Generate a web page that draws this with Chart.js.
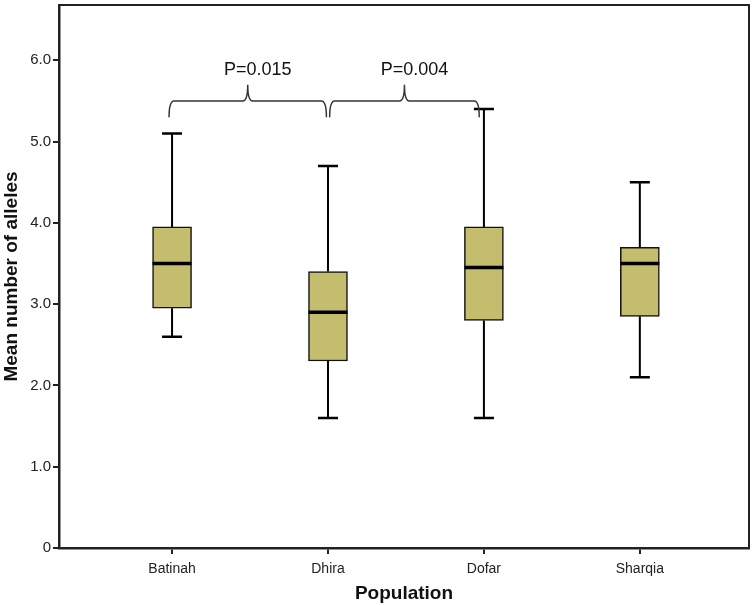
<!DOCTYPE html>
<html>
<head>
<meta charset="utf-8">
<script src="https://cdn.jsdelivr.net/npm/chart.js@4/dist/chart.umd.min.js"></script>
<style>
  html, body { margin: 0; padding: 0; background: #fff; }
  #wrap { width: 754px; height: 605px; }
</style>
</head>
<body>
<div id="wrap"><canvas id="boxchart"></canvas></div>
<script>
// Data
const populations = ['Batinah', 'Dhira', 'Dofar', 'Sharqia'];
const whiskerMin = [2.6, 1.6, 1.6, 2.1];
const q1 = [2.95, 2.3, 2.8, 2.85];
const medians = [3.5, 2.9, 3.45, 3.5];
const q3 = [3.95, 3.4, 3.95, 3.7];
const whiskerMax = [5.1, 4.7, 5.4, 4.5];
const yTicks = [0, 1, 2, 3, 4, 5, 6];

// significance brackets: [from category, to category, label]
const bracketFrom = [1, 2.03];
const bracketTo = [1.99, 2.97];
const bracketLabels = ['P=0.015', 'P=0.004'];

const boxFill = '#c4bd6e';
const font = "'Liberation Sans', Arial, sans-serif";

const boxData = populations.map((p, i) => ({ x: i + 1, y: [q1[i], q3[i]] }));

// whiskers, caps, medians, frame and brackets drawn through the scales
const boxExtras = {
    id: 'boxExtras',
    afterDatasetsDraw(chart) {
        const ctx = chart.ctx;
        const xs = chart.scales.x;
        const ys = chart.scales.y;
        const ca = chart.chartArea;
        ctx.save();
        ctx.strokeStyle = '#000';
        for (let i = 0; i < populations.length; i++) {
            const cx = xs.getPixelForValue(i + 1);
            const capHalf = 10;
            const boxHalf = 19.5;
            ctx.lineWidth = 2;
            ctx.beginPath();
            ctx.moveTo(cx, ys.getPixelForValue(q3[i]));
            ctx.lineTo(cx, ys.getPixelForValue(whiskerMax[i]));
            ctx.moveTo(cx, ys.getPixelForValue(q1[i]));
            ctx.lineTo(cx, ys.getPixelForValue(whiskerMin[i]));
            ctx.stroke();
            ctx.lineWidth = 2.5;
            ctx.beginPath();
            ctx.moveTo(cx - capHalf, ys.getPixelForValue(whiskerMax[i]));
            ctx.lineTo(cx + capHalf, ys.getPixelForValue(whiskerMax[i]));
            ctx.moveTo(cx - capHalf, ys.getPixelForValue(whiskerMin[i]));
            ctx.lineTo(cx + capHalf, ys.getPixelForValue(whiskerMin[i]));
            ctx.stroke();
            ctx.lineWidth = 3.5;
            ctx.beginPath();
            ctx.moveTo(cx - boxHalf, ys.getPixelForValue(medians[i]));
            ctx.lineTo(cx + boxHalf, ys.getPixelForValue(medians[i]));
            ctx.stroke();
        }

        // brackets
        ctx.strokeStyle = '#333';
        ctx.lineWidth = 1.5;
        const yBase = ys.getPixelForValue(5.3);
        const yBar = ys.getPixelForValue(5.5);
        const yTip = ys.getPixelForValue(5.7);
        const r = 5;
        for (let b = 0; b < bracketLabels.length; b++) {
            const x0 = xs.getPixelForValue(bracketFrom[b]) - 3;
            const x1 = xs.getPixelForValue(bracketTo[b]);
            const xm = (x0 + x1) / 2;
            ctx.beginPath();
            ctx.moveTo(x0, yBase);
            ctx.quadraticCurveTo(x0, yBar, x0 + r, yBar);
            ctx.lineTo(xm - r, yBar);
            ctx.quadraticCurveTo(xm, yBar, xm, yTip);
            ctx.quadraticCurveTo(xm, yBar, xm + r, yBar);
            ctx.lineTo(x1 - r, yBar);
            ctx.quadraticCurveTo(x1, yBar, x1, yBase);
            ctx.stroke();
            ctx.fillStyle = '#111';
            ctx.font = '18px ' + font;
            ctx.textAlign = 'center';
            ctx.textBaseline = 'middle';
            ctx.fillText(bracketLabels[b], xm + 10, ys.getPixelForValue(5.88));
        }

        // top and right frame
        ctx.strokeStyle = '#222';
        ctx.lineWidth = 2;
        ctx.beginPath();
        ctx.moveTo(ca.left, ca.top);
        ctx.lineTo(ca.right, ca.top);
        ctx.lineTo(ca.right, ca.bottom);
        ctx.stroke();
        ctx.restore();
    }
};

const boxCtx = document.querySelector('#boxchart').getContext('2d');
const boxchart = new Chart(boxCtx, {
    type: 'bar',
    data: {
        datasets: [
            {
                label: 'Mean number of alleles',
                data: boxData,
                backgroundColor: boxFill,
                borderColor: '#111',
                borderWidth: 1.5,
                borderSkipped: false,
                barThickness: 39,
            },
        ],
    },
    options: {
        responsive: true,
        maintainAspectRatio: false,
        animation: false,
        layout: { padding: { top: 5, right: 5, left: 0, bottom: 0 } },
        plugins: {
            legend: { display: false },
            tooltip: { enabled: false },
        },
        scales: {
            x: {
                type: 'linear',
                offset: false,
                min: 0.275,
                max: 4.7,
                afterBuildTicks: (scale) => {
                    scale.ticks = populations.map((p, i) => ({ value: i + 1 }));
                },
                afterFit: (scale) => {
                    scale.height = 57;
                    scale.paddingLeft = 0;
                    scale.paddingRight = 0;
                },
                ticks: {
                    callback: (v) => populations[v - 1],
                    color: '#222',
                    font: { family: font, size: 14 },
                    padding: 7,
                    maxRotation: 0,
                },
                grid: {
                    offset: false,
                    drawOnChartArea: false,
                    tickLength: 6,
                    color: '#222',
                    lineWidth: 2,
                },
                border: { color: '#222', width: 2.5 },
                title: {
                    display: true,
                    text: 'Population',
                    color: '#111',
                    font: { family: font, size: 19, weight: 'bold' },
                    padding: { top: 2, bottom: 0 },
                },
            },
            y: {
                min: 0,
                max: 6.68,
                afterBuildTicks: (scale) => {
                    scale.ticks = yTicks.map((v) => ({ value: v }));
                },
                afterFit: (scale) => {
                    scale.width = 59;
                    scale.paddingTop = 0;
                    scale.paddingBottom = 0;
                },
                ticks: {
                    callback: (v) => (v === 0 ? '0' : v.toFixed(1)),
                    color: '#222',
                    font: { family: font, size: 15 },
                    padding: 2,
                },
                grid: {
                    drawOnChartArea: false,
                    tickLength: 6,
                    color: '#222',
                    lineWidth: 2,
                },
                border: { color: '#222', width: 2.5 },
                title: {
                    display: true,
                    text: 'Mean number of alleles',
                    color: '#111',
                    font: { family: font, size: 19, weight: 'bold' },
                    padding: { top: 0, bottom: 3 },
                },
            },
        },
    },
    plugins: [boxExtras],
});
</script>
</body>
</html>
